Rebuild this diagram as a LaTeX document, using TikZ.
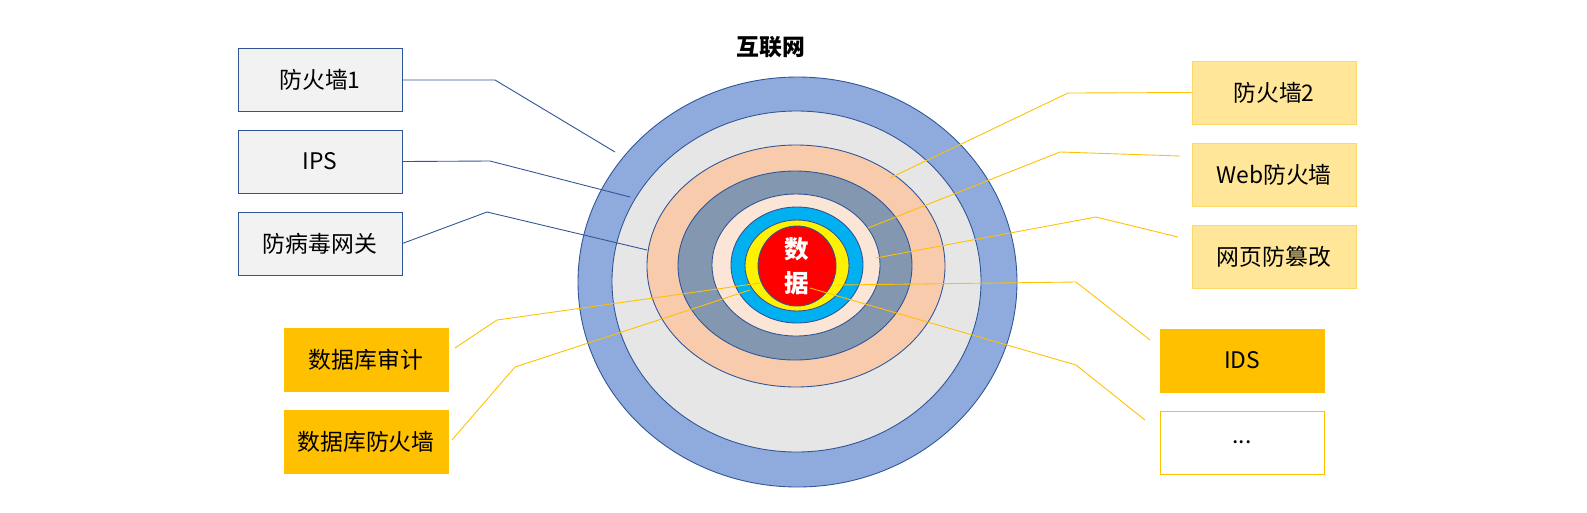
\documentclass[tikz,border=0pt]{standalone}
\usepackage{fontspec}
\setmainfont{Noto Sans CJK SC}
\begin{document}
\begin{tikzpicture}[x=0.02cm,y=-0.02cm,
  ring/.style={draw=dblue,line width=0.5pt},
  bx/.style={minimum width=3.28cm,minimum height=1.26cm,inner sep=0pt,font=\fontsize{13}{15}\selectfont},
  lbox/.style={bx,draw=dblue,fill=black!5},
  ybox/.style={bx,draw=ybord,fill=ylight},
  gbox/.style={bx,draw=gold,fill=gold},
  wbox/.style={bx,draw=gold,fill=white},
  bl/.style={draw=dblue,line width=0.5pt},
  gl/.style={draw=gold,line width=0.5pt}]
\definecolor{c1}{HTML}{8FAADC}\definecolor{c2}{HTML}{E7E6E6}\definecolor{c3}{HTML}{F8CBAD}
\definecolor{c4}{HTML}{8497B0}\definecolor{c5}{HTML}{FBE5D6}\definecolor{c6}{HTML}{00B0F0}
\definecolor{dblue}{HTML}{2F5597}\definecolor{gold}{HTML}{FFC000}
\definecolor{ylight}{HTML}{FFE699}\definecolor{ybord}{HTML}{FFD966}
\useasboundingbox (0,0) rectangle (1587,512);
\fill[ring,fill=c1] (797.5,282) ellipse [x radius=219.5,y radius=205];
\fill[ring,fill=c2] (796.5,281.5) ellipse [x radius=184.5,y radius=170.5];
\fill[ring,fill=c3] (796,266) ellipse [x radius=149,y radius=121];
\fill[ring,fill=c4] (795,265.5) ellipse [x radius=117,y radius=94.5];
\fill[ring,fill=c5] (796,265) ellipse [x radius=84,y radius=71];
\fill[ring,fill=c6] (797,265) ellipse [x radius=66,y radius=58];
\fill[ring,fill=yellow] (797,265.5) ellipse [x radius=52,y radius=45.5];
\fill[ring,fill=red] (797,266) ellipse [x radius=39,y radius=40];
\node (data) at (797,266) [align=center,text=white,font=\fontsize{14}{19}\selectfont\bfseries] {数\\据};
\node (net) at (771,47) [font=\fontsize{13}{15}\selectfont\bfseries] {互联网};
\node[lbox] (f1) at (320,80) {防火墙1};
\node[lbox] (ips) at (320,161.5) {IPS};
\node[lbox] (av) at (320,243.5) {防病毒网关};
\node[gbox] (dba) at (366,360) {数据库审计};
\node[gbox] (dbf) at (366,442) {数据库防火墙};
\node[ybox] (f2) at (1274,92.5) {防火墙2};
\node[ybox] (waf) at (1274,174.5) {Web防火墙};
\node[ybox] (wp) at (1274,256.5) {网页防篡改};
\node[gbox] (ids) at (1242,360.5) {IDS};
\node[wbox] (dots) at (1242,442.5) {...};
\coordinate (p1) at (615,152); \coordinate (p2) at (630,197); \coordinate (p3) at (647,250);
\coordinate (q1) at (890,178); \coordinate (q2) at (868,228); \coordinate (q3) at (876,258);
\coordinate (q4) at (838,285); \coordinate (q5) at (810,288);
\coordinate (r1) at (760,283); \coordinate (r2) at (750,290);
\draw[bl] (f1.east) -- (495,80) -- (p1);
\draw[bl] (ips.east) -- (490,161) -- (p2);
\draw[bl] (av.east) -- (487,212) -- (p3);
\draw[gl] (f2.west) -- (1068,93) -- (q1);
\draw[gl] (1180,156) -- (1060,152) -- (q2);
\draw[gl] (1178,237) -- (1096,217) -- (q3);
\draw[gl] (1150,340) -- (1076,282) -- (q4);
\draw[gl] (1145,420) -- (1076,365) -- (q5);
\draw[gl] (455,348) -- (497,320) -- (r1);
\draw[gl] (452,440) -- (515,367) -- (r2);
\end{tikzpicture}
\end{document}
